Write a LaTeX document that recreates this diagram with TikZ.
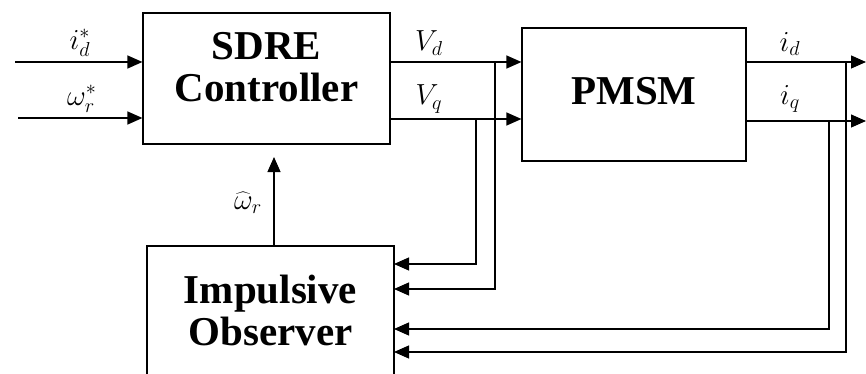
\documentclass[tikz,border=0pt]{standalone}
\usepackage{fontspec}
\setmainfont{Liberation Serif}
\usetikzlibrary{arrows.meta,calc}
\newcommand{\mylab}[1]{\scalebox{1.4}{$#1$}}
\begin{document}
\begin{tikzpicture}[x=1pt,y=-1pt,
  box/.style={draw,line width=1.2pt,inner sep=0pt},
  btext/.style={font=\fontsize{41}{42}\selectfont\bfseries,align=center,inner sep=0pt},
  mlab/.style={font=\fontsize{20}{22}\selectfont,inner sep=0pt},
  wire/.style={line width=1.2pt},
  arr/.style={wire,-{Triangle[length=15pt,width=13pt]}}]
\useasboundingbox (0,0) rectangle (866,374);
% blocks
\node[box,minimum width=247pt,minimum height=131pt] (sdre) at (266.5,78.5) {};
\node[btext] (sdret) at (266.5,67) {SDRE\\Controller};
\node[box,minimum width=224pt,minimum height=133pt] (pmsm) at (634,94.5) {};
\node[btext] (pmsmt) at (634,91) {PMSM};
\node[box,minimum width=247pt,minimum height=132pt] (obs) at (270.5,312) {};
\node[btext] (obst) at (270.5,310) {Impulsive\\Observer};
% coordinates
\coordinate (in1) at (15,62);
\coordinate (in2) at (18,118);
\coordinate (vd) at (390,62);
\coordinate (vq) at (390,119);
\coordinate (bvd) at (495,62);
\coordinate (bvq) at (476,119);
\coordinate (ovq) at (394,264);
\coordinate (ovd) at (394,289);
\coordinate (oiq) at (394,329);
\coordinate (oid) at (394,352);
\coordinate (id) at (746,62);
\coordinate (iq) at (746,121);
\coordinate (idend) at (866,62);
\coordinate (iqend) at (866,121);
\coordinate (bid) at (846,62);
\coordinate (biq) at (829,121);
\coordinate (wtop) at (274,246);
\coordinate (wend) at (274,157);
% connectors
\draw[arr] (in1) -- (sdre.west|-in1);
\draw[arr] (in2) -- (sdre.west|-in2);
\draw[arr] (vd) -- (pmsm.west|-vd);
\draw[arr] (vq) -- (pmsm.west|-vq);
\draw[arr] (bvd) |- (ovd);
\draw[arr] (bvq) |- (ovq);
\draw[arr] (id) -- (idend);
\draw[arr] (iq) -- (iqend);
\draw[arr] (bid) |- (oid);
\draw[arr] (biq) |- (oiq);
\draw[arr] (wtop) -- (wend);
% labels
\node[mlab] (l1) at (80,43) {\mylab{i_d^*}};
\node[mlab] (l2) at (82,99) {\mylab{\omega_r^*}};
\node[mlab] (l3) at (429,43) {\mylab{V_d}};
\node[mlab] (l4) at (429,99) {\mylab{V_q}};
\node[mlab] (l5) at (790,44) {\mylab{i_d}};
\node[mlab] (l6) at (790,99) {\mylab{i_q}};
\node[mlab] (l7) at (248,203) {\mylab{\widehat{\omega}_r}};
\end{tikzpicture}
\end{document}
